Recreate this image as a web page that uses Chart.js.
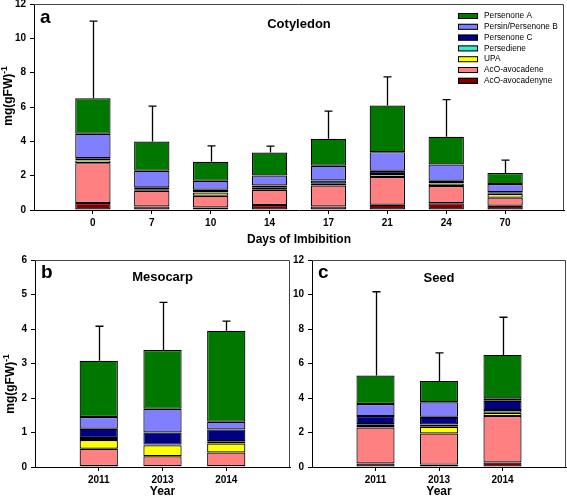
<!DOCTYPE html>
<html>
<head>
<meta charset="utf-8">
<script src="https://cdn.jsdelivr.net/npm/chart.js@4.4.0/dist/chart.umd.min.js"></script>
<style>
  body { margin: 0; background: #fff; width: 567px; height: 499px; overflow: hidden; position: relative; }
  canvas { position: absolute; }
</style>
</head>
<body>
<canvas id="cotyledon" width="567" height="250" style="left:0;top:0"></canvas>
<canvas id="mesocarp" width="300" height="249" style="left:0;top:250px"></canvas>
<canvas id="seed" width="277" height="249" style="left:290px;top:250px"></canvas>
<script>
// categories
const days = ['0', '7', '10', '14', '17', '21', '24', '70'];
const years = ['2011', '2013', '2014'];

// stack order, bottom to top
const seriesNames = ['AcO-avocadenyne', 'AcO-avocadene', 'UPA', 'Persediene', 'Persenone C', 'Persin/Persenone B', 'Persenone A'];
const seriesColors = ['#800000', '#ff8080', '#ffff00', '#40e8c8', '#000080', '#8080ff', '#007800'];

// a - Cotyledon, mg(gFW)-1
const cotAvocadenyne = [0.41, 0.21, 0.15, 0.29, 0.21, 0.31, 0.39, 0.25];
const cotAvocadene   = [2.32, 0.91, 0.68, 0.89, 1.22, 1.61, 1.01, 0.47];
const cotUPA         = [0.16, 0.05, 0.19, 0.14, 0.09, 0.17, 0.15, 0.21];
const cotPersediene  = [0.01, 0.01, 0.01, 0.01, 0.01, 0.01, 0.01, 0.01];
const cotPersenoneC  = [0.12, 0.14, 0.15, 0.10, 0.19, 0.19, 0.14, 0.09];
const cotPersenoneB  = [1.42, 0.97, 0.52, 0.58, 0.86, 1.08, 0.95, 0.48];
const cotPersenoneA  = [2.07, 1.70, 1.11, 1.34, 1.57, 2.72, 1.61, 0.64];
const cotSD          = [4.49, 2.06, 0.93, 0.37, 1.61, 1.66, 2.17, 0.76];

// b - Mesocarp
const mesAvocadenyne = [0.03, 0.02, 0.02];
const mesAvocadene   = [0.50, 0.29, 0.40];
const mesUPA         = [0.25, 0.32, 0.26];
const mesPersediene  = [0.06, 0.02, 0.07];
const mesPersenoneC  = [0.27, 0.35, 0.34];
const mesPersenoneB  = [0.34, 0.69, 0.22];
const mesPersenoneA  = [1.63, 1.70, 2.64];
const mesSD          = [1.00, 1.38, 0.28];

// c - Seed
const seedAvocadenyne = [0.20, 0.14, 0.26];
const seedAvocadene   = [2.09, 1.80, 2.69];
const seedUPA         = [0.14, 0.39, 0.19];
const seedPersediene  = [0.05, 0.14, 0.16];
const seedPersenoneC  = [0.47, 0.44, 0.54];
const seedPersenoneB  = [0.70, 0.84, 0.14];
const seedPersenoneA  = [1.65, 1.24, 2.52];
const seedSD          = [4.86, 1.63, 2.18];

const FONT = '"Liberation Sans", Arial, sans-serif';
Chart.defaults.font.family = FONT;

// error bars, frame, titles, legend
function decorations(cfg, series, sd) {
  return {
    id: 'decorations',
    afterDatasetsDraw(chart) {
      const { ctx, chartArea: a, scales: { x, y } } = chart;
      ctx.save();

      ctx.strokeStyle = '#000';
      ctx.lineWidth = 1.3;
      sd.forEach((s, i) => {
        const total = series.reduce((t, arr) => t + arr[i], 0);
        const px = Math.round(x.getPixelForValue(i)) + 0.5;
        const yTop = y.getPixelForValue(total);
        const yErr = y.getPixelForValue(total + s);
        ctx.beginPath();
        ctx.moveTo(px, yTop);
        ctx.lineTo(px, yErr);
        ctx.moveTo(px - 4, yErr);
        ctx.lineTo(px + 4, yErr);
        ctx.stroke();
      });

      ctx.strokeStyle = '#444';
      ctx.lineWidth = 1;
      ctx.beginPath();
      ctx.moveTo(a.left, a.top + 0.5);
      ctx.lineTo(a.right - 0.5, a.top + 0.5);
      ctx.lineTo(a.right - 0.5, a.bottom);
      ctx.stroke();

      const cx = (a.left + a.right) / 2;
      ctx.fillStyle = '#000';
      ctx.textBaseline = 'alphabetic';
      ctx.textAlign = 'left';
      ctx.font = 'bold 19px ' + FONT;
      ctx.fillText(cfg.letter, a.left + 6, cfg.letterY);

      ctx.textAlign = 'center';
      ctx.font = 'bold 13px ' + FONT;
      ctx.fillText(cfg.title, cx, cfg.titleY);

      ctx.textBaseline = 'middle';
      ctx.font = 'bold 12px ' + FONT;
      ctx.fillText(cfg.xTitle, cx, cfg.xTitleY);

      if (cfg.yTitleX) {
        ctx.save();
        ctx.translate(cfg.yTitleX, cfg.yTitleY);
        ctx.rotate(-Math.PI / 2);
        ctx.textAlign = 'left';
        ctx.font = 'bold 12px ' + FONT;
        const w1 = ctx.measureText('mg(gFW)').width;
        ctx.font = 'bold 8.5px ' + FONT;
        const w2 = ctx.measureText('-1').width;
        const x0 = -(w1 + w2) / 2;
        ctx.font = 'bold 12px ' + FONT;
        ctx.fillText('mg(gFW)', x0, 0);
        ctx.font = 'bold 8.5px ' + FONT;
        ctx.fillText('-1', x0 + w1, -4);
        ctx.restore();
      }

      if (cfg.legend) {
        ctx.textAlign = 'left';
        ctx.font = '8.3px ' + FONT;
        for (let k = seriesNames.length - 1, row = 0; k >= 0; k--, row++) {
          const yc = 16 + row * 10.8;
          ctx.fillStyle = seriesColors[k];
          ctx.fillRect(458, yc - 3, 20, 6);
          ctx.strokeStyle = '#000';
          ctx.strokeRect(458.5, yc - 2.5, 19, 5);
          ctx.fillStyle = '#000';
          ctx.fillText(seriesNames[k], 484, yc);
        }
      }
      ctx.restore();
    }
  };
}

function panel(id, labels, series, sd, cfg) {
  const datasets = series.map((vals, k) => ({
    label: seriesNames[k],
    data: vals.map((v, i) => ({ x: i, y: v })),
    backgroundColor: seriesColors[k],
    borderColor: '#000',
    borderWidth: 1.2,
    borderSkipped: false,
    barPercentage: 0.6,
    categoryPercentage: 1
  }));
  const tickFont = { size: 10, weight: 'bold', family: FONT };
  return new Chart(document.getElementById(id), {
    type: 'bar',
    data: { datasets },
    options: {
      responsive: false,
      animation: false,
      layout: { padding: { top: cfg.padTop, right: cfg.padRight, left: 0, bottom: 0 } },
      plugins: { legend: { display: false }, tooltip: { enabled: false } },
      scales: {
        x: {
          type: 'linear',
          stacked: true,
          offset: false,
          min: cfg.xMin,
          max: cfg.xMax,
          grid: { drawOnChartArea: false, tickLength: 4, color: '#000', offset: false },
          border: { color: '#000', width: 1 },
          ticks: { font: tickFont, color: '#000', padding: 3, autoSkip: false, callback: v => labels[v] },
          afterBuildTicks: s => { s.ticks = labels.map((l, i) => ({ value: i })); },
          afterFit: s => { s.height = cfg.xHeight; s.paddingLeft = 0; s.paddingRight = 0; }
        },
        y: {
          stacked: true,
          min: 0,
          max: cfg.yMax,
          grid: { drawOnChartArea: false, tickLength: 4, color: '#000' },
          border: { color: '#000', width: 1 },
          ticks: { stepSize: cfg.yStep, font: tickFont, color: '#000', padding: 4 },
          afterFit: s => { s.width = cfg.yWidth; s.paddingTop = 0; s.paddingBottom = 0; }
        }
      }
    },
    plugins: [decorations(cfg, series, sd)]
  });
}

panel('cotyledon', days,
  [cotAvocadenyne, cotAvocadene, cotUPA, cotPersediene, cotPersenoneC, cotPersenoneB, cotPersenoneA], cotSD,
  { xMin: -1, xMax: 8, yMax: 12, yStep: 2, yWidth: 34, xHeight: 40, padTop: 4, padRight: 3,
    letter: 'a', letterY: 23, title: 'Cotyledon', titleY: 28, xTitle: 'Days of Imbibition', xTitleY: 240,
    yTitleX: 9, yTitleY: 96, legend: true });

panel('mesocarp', years,
  [mesAvocadenyne, mesAvocadene, mesUPA, mesPersediene, mesPersenoneC, mesPersenoneB, mesPersenoneA], mesSD,
  { xMin: -1, xMax: 3, yMax: 6, yStep: 1, yWidth: 35, xHeight: 32, padTop: 10, padRight: 10,
    letter: 'b', letterY: 28, title: 'Mesocarp', titleY: 31, xTitle: 'Year', xTitleY: 242,
    yTitleX: 11, yTitleY: 134 });

panel('seed', years,
  [seedAvocadenyne, seedAvocadene, seedUPA, seedPersediene, seedPersenoneC, seedPersenoneB, seedPersenoneA], seedSD,
  { xMin: -1, xMax: 3, yMax: 12, yStep: 2, yWidth: 22, xHeight: 32, padTop: 10, padRight: 1,
    letter: 'c', letterY: 28, title: 'Seed', titleY: 32, xTitle: 'Year', xTitleY: 242 });
</script>
</body>
</html>
